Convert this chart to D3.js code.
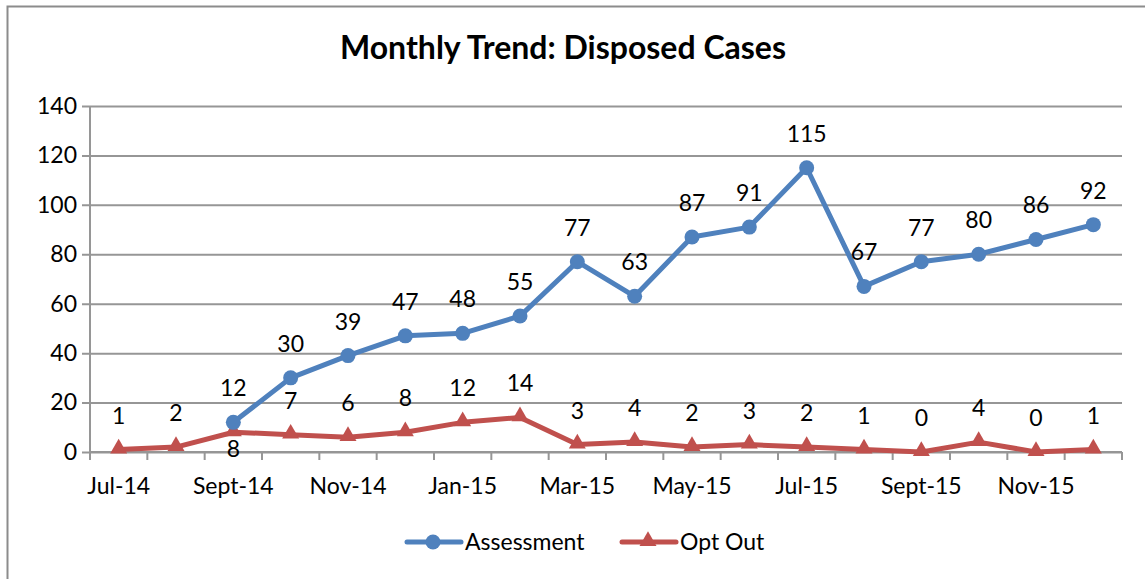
<!DOCTYPE html>
<meta charset="utf-8">
<script src="https://d3js.org/d3.v7.min.js"></script>
<style>
  body { margin: 0; background: #fff; }
  text { font-family: Lato, "Open Sans", sans-serif; fill: #000; }
</style>
<div id="my_dataviz"></div>
<script>

    // months on the x axis
    var months = ["Jul-14", "Aug-14", "Sept-14", "Oct-14", "Nov-14", "Dec-14",
                  "Jan-15", "Feb-15", "Mar-15", "Apr-15", "May-15", "Jun-15",
                  "Jul-15", "Aug-15", "Sept-15", "Oct-15", "Nov-15", "Dec-15"];
    // only every other month gets a label
    var tickLabels = ["Jul-14", "Sept-14", "Nov-14", "Jan-15", "Mar-15",
                      "May-15", "Jul-15", "Sept-15", "Nov-15"];
    // null = no value that month
    var assessment = [null, null, 12, 30, 39, 47, 48, 55, 77, 63, 87, 91, 115, 67, 77, 80, 86, 92];
    var optOut = [1, 2, 8, 7, 6, 8, 12, 14, 3, 4, 2, 3, 2, 1, 0, 4, 0, 1];
    var yTicks = [0, 20, 40, 60, 80, 100, 120, 140];

    var W = 1145, H = 579;
    var margin = {top: 106, right: 23, bottom: 127, left: 90},
        width = W - margin.left - margin.right,
        height = H - margin.top - margin.bottom;

    var blue = "#4F81BD", red = "#C0504D", grid = "#969696";
    var fs = "23px";

    var root = d3.select("#my_dataviz")
        .append("svg")
            .attr("width", W)
            .attr("height", H);

    // outer frame (runs off the right and bottom edges)
    root.append("rect")
        .attr("x", 7.5).attr("y", 6.5)
        .attr("width", W).attr("height", H + 10)
        .attr("fill", "none")
        .attr("stroke", "#8c8c8c")
        .attr("stroke-width", 2);

    root.append("text")
        .attr("x", 563).attr("y", 59)
        .attr("text-anchor", "middle")
        .style("font-size", "32px")
        .style("font-weight", "bold")
        .text("Monthly Trend: Disposed Cases");

    var svg = root.append("g")
        .attr("transform", "translate(" + margin.left + "," + margin.top + ")");

    var x = d3.scaleBand()
        .domain(months)
        .range([0, width]);

    var y = d3.scaleLinear()
        .domain([0, 140])
        .range([height, 0]);

    // gridlines + y axis
    var yAxis = svg.append("g")
        .call(d3.axisLeft(y).tickValues(yTicks).tickSize(-width).tickSizeOuter(0).tickPadding(13));
    yAxis.select(".domain").remove();
    yAxis.selectAll("line")
        .attr("x1", -8)
        .attr("stroke", grid)
        .attr("stroke-width", 2);
    yAxis.selectAll("text")
        .style("font-size", fs);
    svg.append("line")
        .attr("x1", 0).attr("x2", 0)
        .attr("y1", 0).attr("y2", height)
        .attr("stroke", grid)
        .attr("stroke-width", 2);

    // x axis: tick marks on band edges, labels at band centres
    var xAxis = svg.append("g")
        .attr("transform", "translate(0," + height + ")");
    xAxis.append("line")
        .attr("x1", 0).attr("x2", width)
        .attr("stroke", grid)
        .attr("stroke-width", 2);
    xAxis.selectAll("line.tk")
        .data(months.concat(["end"]))
        .enter()
        .append("line")
        .attr("class", "tk")
        .attr("x1", function(d, i) { return i * x.step(); })
        .attr("x2", function(d, i) { return i * x.step(); })
        .attr("y1", 0).attr("y2", 8)
        .attr("stroke", grid)
        .attr("stroke-width", 2);
    xAxis.selectAll("text.lbl")
        .data(tickLabels)
        .enter()
        .append("text")
        .attr("class", "lbl")
        .attr("x", function(d) { return x(d) + x.bandwidth() / 2; })
        .attr("y", 42)
        .attr("text-anchor", "middle")
        .style("font-size", fs)
        .text(function(d) { return d; });

    var cx = function(i) { return x(months[i]) + x.bandwidth() / 2; };

    var line = d3.line()
        .defined(function(d) { return d != null; })
        .x(function(d, i) { return cx(i); })
        .y(function(d) { return y(d); });

    // Opt Out series
    svg.append("path")
        .datum(optOut)
        .attr("fill", "none")
        .attr("stroke", red)
        .attr("stroke-width", 5)
        .attr("stroke-linejoin", "round")
        .attr("d", line);
    svg.selectAll("path.tri")
        .data(optOut)
        .enter()
        .append("path")
        .attr("class", "tri")
        .attr("d", d3.symbol().type(d3.symbolTriangle).size(125))
        .attr("transform", function(d, i) { return "translate(" + cx(i) + "," + (y(d) - 1) + ")"; })
        .attr("fill", red);

    // Assessment series
    svg.append("path")
        .datum(assessment)
        .attr("fill", "none")
        .attr("stroke", blue)
        .attr("stroke-width", 5)
        .attr("stroke-linejoin", "round")
        .attr("d", line);
    svg.selectAll("circle.pt")
        .data(assessment.map(function(d, i) { return [i, d]; }).filter(function(d) { return d[1] != null; }))
        .enter()
        .append("circle")
        .attr("class", "pt")
        .attr("cx", function(d) { return cx(d[0]); })
        .attr("cy", function(d) { return y(d[1]); })
        .attr("r", 7.5)
        .attr("fill", blue);

    // data labels
    svg.selectAll("text.alab")
        .data(assessment.map(function(d, i) { return [i, d]; }).filter(function(d) { return d[1] != null; }))
        .enter()
        .append("text")
        .attr("class", "alab")
        .attr("x", function(d) { return cx(d[0]); })
        .attr("y", function(d) { return y(d[1]) - 26; })
        .attr("text-anchor", "middle")
        .style("font-size", fs)
        .text(function(d) { return d[1]; });

    svg.selectAll("text.olab")
        .data(optOut)
        .enter()
        .append("text")
        .attr("class", "olab")
        .attr("x", function(d, i) { return cx(i); })
        // Sept-14 label sits under the point, like in the original
        .attr("y", function(d, i) { return i == 2 ? y(d) + 25 : y(d) - 26; })
        .attr("text-anchor", "middle")
        .style("font-size", fs)
        .text(function(d) { return d; });

    // legend
    var legend = root.append("g").attr("transform", "translate(0,542)");
    legend.append("line")
        .attr("x1", 407).attr("x2", 461)
        .attr("stroke", blue).attr("stroke-width", 5).attr("stroke-linecap", "round");
    legend.append("circle")
        .attr("cx", 433).attr("cy", 0).attr("r", 7.5).attr("fill", blue);
    legend.append("text")
        .attr("x", 465).attr("y", 8)
        .style("font-size", fs)
        .text("Assessment");
    legend.append("line")
        .attr("x1", 622).attr("x2", 676)
        .attr("stroke", red).attr("stroke-width", 5).attr("stroke-linecap", "round");
    legend.append("path")
        .attr("d", d3.symbol().type(d3.symbolTriangle).size(125))
        .attr("transform", "translate(648,-1)")
        .attr("fill", red);
    legend.append("text")
        .attr("x", 680).attr("y", 8)
        .style("font-size", fs)
        .text("Opt Out");

</script>
